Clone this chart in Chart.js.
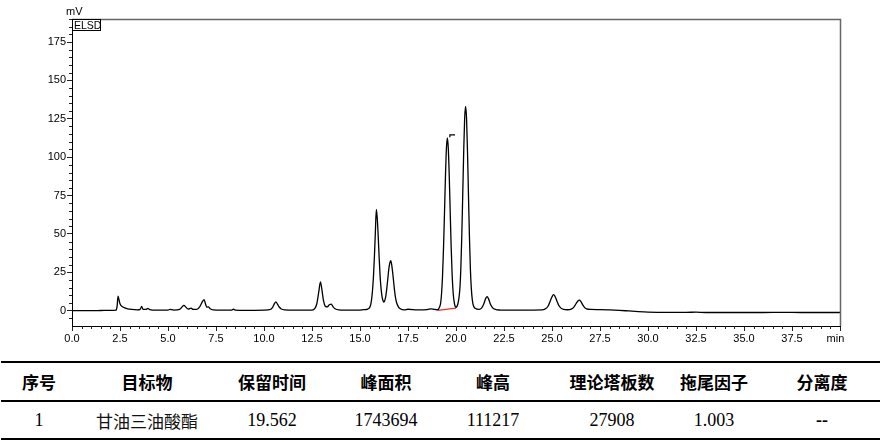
<!DOCTYPE html>
<html lang="zh">
<head>
  <meta charset="UTF-8" />
  <title>ELSD 色谱图</title>
  <script src="https://cdn.jsdelivr.net/npm/chart.js"></script>
  <style>
    body {
      margin: 0;
      background: #fff;
      width: 888px;
      height: 444px;
      position: relative;
      overflow: hidden;
      font-family: 'Liberation Sans', Arial, sans-serif;
    }
    #chart-box {
      position: absolute;
      left: 0;
      top: 0;
      width: 888px;
      height: 352px;
    }
    .unit {
      position: absolute;
      left: 66px;
      top: 5px;
      font-size: 11px;
      color: #000;
    }
    .det {
      position: absolute;
      left: 72px;
      top: 19px;
      width: 29px;
      height: 12px;
      border: 1px solid #000;
      box-sizing: border-box;
      font-size: 10.5px;
      line-height: 10px;
      padding-left: 1px;
      color: #000;
      background: #fff;
    }
    table {
      position: absolute;
      left: 1px;
      top: 361px;
      width: 879px;
      border-collapse: collapse;
      table-layout: fixed;
    }
    th, td {
      text-align: center;
      padding: 0;
      color: #000;
    }
    th span, td span { position: relative; }
    th {
      font-family: 'Noto Sans CJK SC', sans-serif;
      font-weight: bold;
      font-size: 17px;
      height: 37px;
      border-top: 2px solid #000;
      border-bottom: 2px solid #000;
    }
    td {
      font-family: 'Liberation Serif', 'Times New Roman', serif;
      font-size: 18px;
      height: 36px;
      border-bottom: 2px solid #000;
    }
    td.cn {
      font-family: 'Noto Sans CJK SC', sans-serif;
      font-size: 17px;
      font-weight: normal;
      color: #111;
    }
  </style>
</head>
<body>

  <div id="chart-box"><canvas id="elsd" width="888" height="352"></canvas></div>
  <div class="unit">mV</div>
  <div class="det">ELSD</div>
  <table id="result"></table>

  <script>
    // retention time (min) and detector signal (mV)
    const rtMin = [
      0, 0.5, 1.0, 1.5, 2.0, 2.3, 2.35, 2.4, 2.45, 2.5, 2.6, 2.75, 2.9, 3.1, 3.4, 3.55, 3.63, 3.7, 3.85, 3.94,
      4.05, 4.4, 5.0, 5.1, 5.3, 5.6, 5.72, 5.83, 5.93, 6.05, 6.2, 6.3, 6.5, 6.65, 6.8, 6.88, 6.95, 7.03, 7.1, 7.2,
      7.35, 7.8, 8.3, 8.4, 8.5, 9.0, 9.5, 10.0, 10.3, 10.45, 10.55, 10.62, 10.7, 10.8, 10.9, 11.1, 11.5, 12.0,
      12.5, 12.65, 12.75, 12.85, 12.94, 13.0, 13.1, 13.2, 13.3, 13.4, 13.5, 13.6, 13.7, 13.9, 14.5, 15.0, 15.2,
      15.4, 15.5, 15.55, 15.6, 15.65, 15.7, 15.75, 15.8, 15.85, 15.9, 15.95, 16.0, 16.05, 16.1, 16.15, 16.2,
      16.25, 16.3, 16.35, 16.4, 16.45, 16.5, 16.55, 16.6, 16.65, 16.7, 16.75, 16.8, 16.85, 16.9, 17.0, 17.1,
      17.3, 17.5, 18.0, 18.5, 18.7, 18.85, 19.0, 19.05, 19.15, 19.2, 19.25, 19.3, 19.35, 19.4, 19.45, 19.5,
      19.55, 19.6, 19.65, 19.7, 19.75, 19.8, 19.85, 19.9, 19.95, 20.0, 20.05, 20.1, 20.15, 20.2, 20.25, 20.3,
      20.35, 20.4, 20.45, 20.5, 20.55, 20.6, 20.65, 20.7, 20.75, 20.8, 20.85, 20.9, 21.0, 21.2, 21.35, 21.45,
      21.55, 21.62, 21.7, 21.8, 21.9, 22.05, 22.3, 23.0, 24.0, 24.5, 24.7, 24.8, 24.9, 25.0, 25.08, 25.15,
      25.25, 25.35, 25.45, 25.6, 25.8, 26.0, 26.15, 26.25, 26.35, 26.43, 26.5, 26.6, 26.7, 26.8, 27.0, 27.5,
      28.0, 28.5, 29.0, 29.5, 30.0, 31.0, 32.0, 32.5, 33.0, 34.0, 35.0, 36.0, 37.0, 38.0, 39.0, 40.0
    ];
    const signalMv = [
      0, 0, 0, 0.1, 0.2, 0.4, 3, 9.5, 7, 4.5, 2.8, 1.8, 1.2, 0.8, 0.5, 0.8, 2.8, 0.8, 0.8, 1.4,
      0.7, 0.3, 0.4, 0.8, 0.4, 0.8, 2.2, 3.5, 2.3, 1, 1.7, 0.8, 0.8, 2.5, 6, 7.2, 4.5, 2.2, 2.5, 1.2,
      0.5, 0.3, 0.3, 0.9, 0.4, 0.2, 0.2, 0.3, 0.6, 2.2, 4.8, 5.7, 4.3, 2.2, 1.1, 0.5, 0.3, 0.3,
      0.4, 1.5, 4.5, 12, 18.7, 15, 6.5, 2.8, 2.5, 3.8, 4.3, 2.5, 1.2, 0.5, 0.3, 0.4, 0.6,
      1, 2, 3.5, 7, 13, 22, 35, 51, 66, 60, 48, 34, 22, 14, 9, 6.5,
      5.5, 7, 10, 15, 21, 27, 31, 32.5, 30, 25, 19, 13, 8.5, 5.5, 2.5, 1.2,
      0.5, 0.9, 0.5, 0.7, 1.2, 0.9, 0.6, 0.6, 2.5, 5, 11.5, 23, 41, 63.5, 87, 105.5,
      112.5, 105.5, 87, 63.5, 41, 23, 12, 6, 3, 2.2, 2.8, 4.5, 8, 14, 27, 48,
      75, 103, 125, 133, 125, 103, 75, 48, 27, 14, 7, 3.5, 1.5, 0.8, 2, 4.5,
      8, 9.2, 7.5, 4, 2, 0.8, 0.4, 0.3, 0.4, 0.5, 1.5, 3, 6, 9, 10.4, 9.5,
      6.5, 3.5, 1.8, 0.8, 0.6, 1, 2.5, 4.5, 6.3, 6.8, 6, 3.8, 2, 1.2, 0.8, 0.7,
      0.5, 0.2, -0.2, -0.6, -0.9, -1.1, -1.1, -1.0, -1.2, -1.2, -1.2, -1.2, -1.1, -1.2, -1.2, -1.2
    ];
    // integration baseline under the main peak (red)
    const baseRt = [19.06, 20.0];
    const baseMv = [0.2, 1.7];
    // peak marker next to the apex at 19.562 min
    const markRt = [19.68, 19.68, 19.95];
    const markMv = [113, 114.5, 114.5];

    const xTicks = [0, 2.5, 5, 7.5, 10, 12.5, 15, 17.5, 20, 22.5, 25, 27.5, 30, 32.5, 35, 37.5, 40];
    const xTickLabels = ['0.0', '2.5', '5.0', '7.5', '10.0', '12.5', '15.0', '17.5', '20.0', '22.5',
                         '25.0', '27.5', '30.0', '32.5', '35.0', '37.5', 'min   '];
    const yTicks = [0, 25, 50, 75, 100, 125, 150, 175];

    const tableHeaders = ['序号', '目标物', '保留时间', '峰面积', '峰高', '理论塔板数', '拖尾因子', '分离度'];
    const tableRow = ['1', '甘油三油酸酯', '19.562', '1743694', '111217', '27908', '1.003', '--'];
    const colWidths = [92, 117, 119, 111, 113, 110, 105, 112];
    const colShift = [-8, -4.5, 2.5, 1.5, -3.5, 4, -1.5, -2];

    // build table
    const tbl = document.getElementById('result');
    const cell = (tag, txt, i, cls) =>
      `<${tag}${cls ? ` class="${cls}"` : ''}><span style="left:${colShift[i]}px">${txt}</span></${tag}>`;
    let html = '<colgroup>' + colWidths.map(w => `<col style="width:${w}px">`).join('') + '</colgroup>';
    html += '<tr>' + tableHeaders.map((h, i) => cell('th', h, i)).join('') + '</tr>';
    html += '<tr>' + tableRow.map((c, i) => {
      if (i === 1) return cell('td', c, i, 'cn');
      if (i === 7) return cell('td', '<b>' + c + '</b>', i);
      return cell('td', c, i);
    }).join('') + '</tr>';
    tbl.innerHTML = html;

    const pts = (xs, ys) => xs.map((x, i) => ({ x: x, y: ys[i] }));

    // frame (top/right) + minor ticks
    const framePlugin = {
      id: 'framePlugin',
      afterDraw(chart) {
        const { ctx, chartArea: a, scales } = chart;
        const x = scales.x, y = scales.y;
        ctx.save();
        ctx.strokeStyle = '#666';
        ctx.lineWidth = 1.5;
        ctx.beginPath();
        ctx.moveTo(a.left, a.top + 0.5);
        ctx.lineTo(a.right + 0.5, a.top + 0.5);
        ctx.lineTo(a.right + 0.5, a.bottom);
        ctx.stroke();

        ctx.strokeStyle = '#222';
        ctx.lineWidth = 1;
        ctx.beginPath();
        for (let i = 1; i <= 80; i++) {
          if (i % 5 === 0) continue;
          const px = Math.round(x.getPixelForValue(i / 2)) + 0.5;
          ctx.moveTo(px, a.bottom);
          ctx.lineTo(px, a.bottom + 3);
        }
        for (let v = -5; v <= 190; v += 5) {
          if (v % 25 === 0) continue;
          const py = Math.round(y.getPixelForValue(v)) + 0.5;
          ctx.moveTo(a.left - 3, py);
          ctx.lineTo(a.left, py);
        }
        ctx.stroke();
        ctx.restore();
      }
    };

    const tickFont = { family: "'Liberation Sans', Arial, sans-serif", size: 11 };

    new Chart(document.getElementById('elsd'), {
      type: 'line',
      data: {
        datasets: [
          {
            data: pts(rtMin, signalMv),
            borderColor: '#000',
            borderWidth: 1.3,
            pointRadius: 0,
            cubicInterpolationMode: 'monotone',
            fill: false
          },
          {
            data: pts(baseRt, baseMv),
            borderColor: '#e8322f',
            borderWidth: 1.2,
            pointRadius: 0
          },
          {
            data: pts(markRt, markMv),
            borderColor: '#000',
            borderWidth: 1.2,
            pointRadius: 0,
            tension: 0
          }
        ]
      },
      options: {
        responsive: false,
        animation: false,
        events: [],
        layout: { padding: { top: 19, right: 48, left: 0, bottom: 0 } },
        plugins: { legend: { display: false }, tooltip: { enabled: false } },
        scales: {
          x: {
            type: 'linear',
            min: 0,
            max: 40,
            afterBuildTicks: s => { s.ticks = xTicks.map(v => ({ value: v })); },
            afterFit: s => { s.height = 26; },
            ticks: {
              autoSkip: false,
              maxRotation: 0,
              padding: 1,
              color: '#000',
              font: tickFont,
              callback: (v, i) => xTickLabels[i]
            },
            grid: { drawOnChartArea: false, tickLength: 5, color: '#222' },
            border: { color: '#000', width: 1 }
          },
          y: {
            min: -10,
            max: 190,
            afterBuildTicks: s => { s.ticks = yTicks.map(v => ({ value: v })); },
            afterFit: s => { s.width = 72; },
            ticks: {
              padding: 1,
              color: '#000',
              font: tickFont,
              callback: v => String(v)
            },
            grid: { drawOnChartArea: false, tickLength: 5, color: '#222' },
            border: { color: '#000', width: 1 }
          }
        }
      },
      plugins: [framePlugin]
    });
  </script>
</body>
</html>
